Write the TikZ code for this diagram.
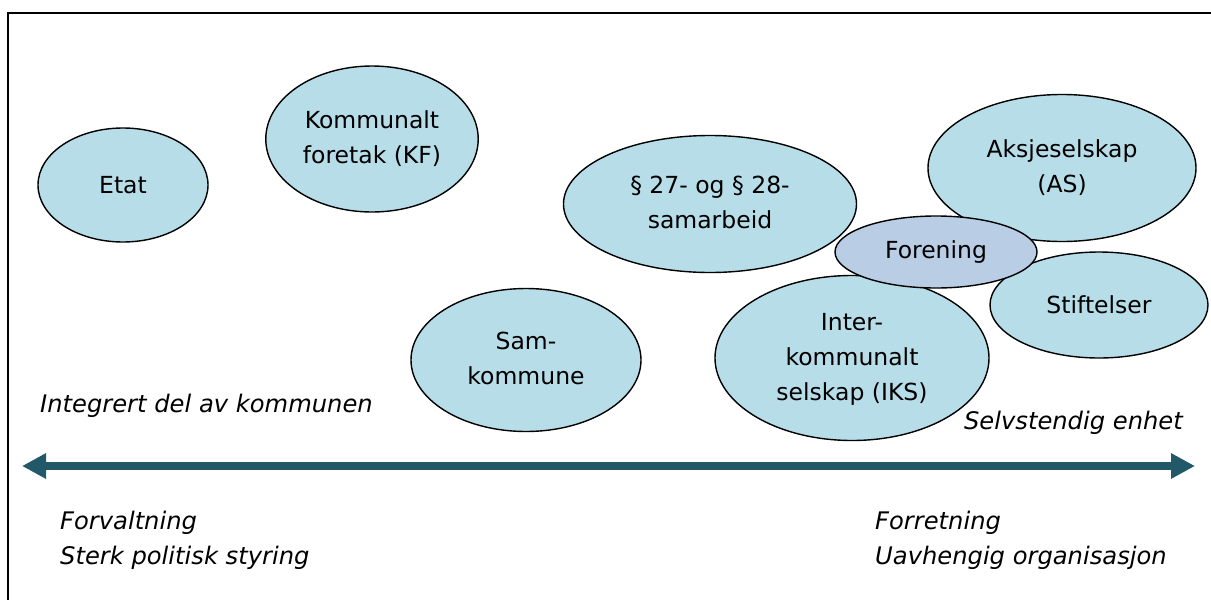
\documentclass[tikz,border=0pt]{standalone}
\usepackage{fontspec}
\setmainfont{DejaVu Sans}
\usetikzlibrary{shapes.geometric, arrows.meta}
\definecolor{lysblaa}{HTML}{B7DDE8}
\definecolor{graablaa}{HTML}{B9CDE5}
\definecolor{petrol}{HTML}{215968}

\begin{document}
\begin{tikzpicture}[x=1pt, y=-1pt,
    boble/.style={ellipse, draw, line width=1.4pt, fill=lysblaa, inner sep=0pt},
    tekst/.style={font=\fontsize{24.2}{34}\selectfont\itshape, inner sep=0pt}]
      \useasboundingbox (0, 0) rectangle (1211, 600);
      \draw[line width=2.2pt] (8, 600) -- (8, 13) -- (1211, 13);

      \node (etat) [boble, minimum width=170, minimum height=114] at (123, 185) {
        \fontsize{23.5}{35}\selectfont Etat
      };
      \node (kf) [boble, minimum width=195, minimum height=146] at (372, 139) {
        \fontsize{23.5}{35}\selectfont
        \begin{tabular}{c}
          Kommunalt \\
          foretak (KF)
        \end{tabular}
      };
      \node (samarbeid) [boble, minimum width=293, minimum height=137] at (710, 204) {
        \fontsize{23.5}{35}\selectfont
        \begin{tabular}{c}
          § 27- og § 28- \\
          samarbeid
        \end{tabular}
      };
      \node (as) [boble, minimum width=268, minimum height=147] at (1062, 168) {
        \fontsize{23.5}{35}\selectfont
        \begin{tabular}{c}
          Aksjeselskap \\
          (AS)
        \end{tabular}
      };
      \node (stiftelser) [boble, minimum width=218, minimum height=106] at (1099, 305) {
        \fontsize{23.5}{35}\selectfont Stiftelser
      };
      \node (samkommune) [boble, minimum width=230, minimum height=143] at (526, 360) {
        \fontsize{23.5}{35}\selectfont
        \begin{tabular}{c}
          Sam- \\
          kommune
        \end{tabular}
      };
      \node (iks) [boble, minimum width=274, minimum height=165] at (852, 358) {
        \fontsize{23.5}{35}\selectfont
        \begin{tabular}{c}
          Inter- \\
          kommunalt \\
          selskap (IKS)
        \end{tabular}
      };
      \node (forening) [boble, fill=graablaa, minimum width=202, minimum height=72] at (936, 252) {
        \fontsize{23.5}{35}\selectfont Forening
      };

      % aksen
      \coordinate (venstre) at (22, 466);
      \coordinate (hoyre) at (1195, 466);
      \draw[petrol, line width=8pt, {Triangle[length=24pt, width=24pt]}-{Triangle[length=24pt, width=24pt]}]
        (venstre) -- (hoyre);

      \node (integrert) [tekst, anchor=base west] at (40, 412) {Integrert del av kommunen};
      \node (selvstendig) [tekst, anchor=base east] at (1183, 429) {Selvstendig enhet};
      \node (forvaltning) [tekst, anchor=base west] at (60, 529) {Forvaltning};
      \node (styring) [tekst, anchor=base west] at (60, 564) {Sterk politisk styring};
      \node (forretning) [tekst, anchor=base west] at (875, 529) {Forretning};
      \node (uavhengig) [tekst, anchor=base west] at (875, 564) {Uavhengig organisasjon};
    \end{tikzpicture}
\end{document}
